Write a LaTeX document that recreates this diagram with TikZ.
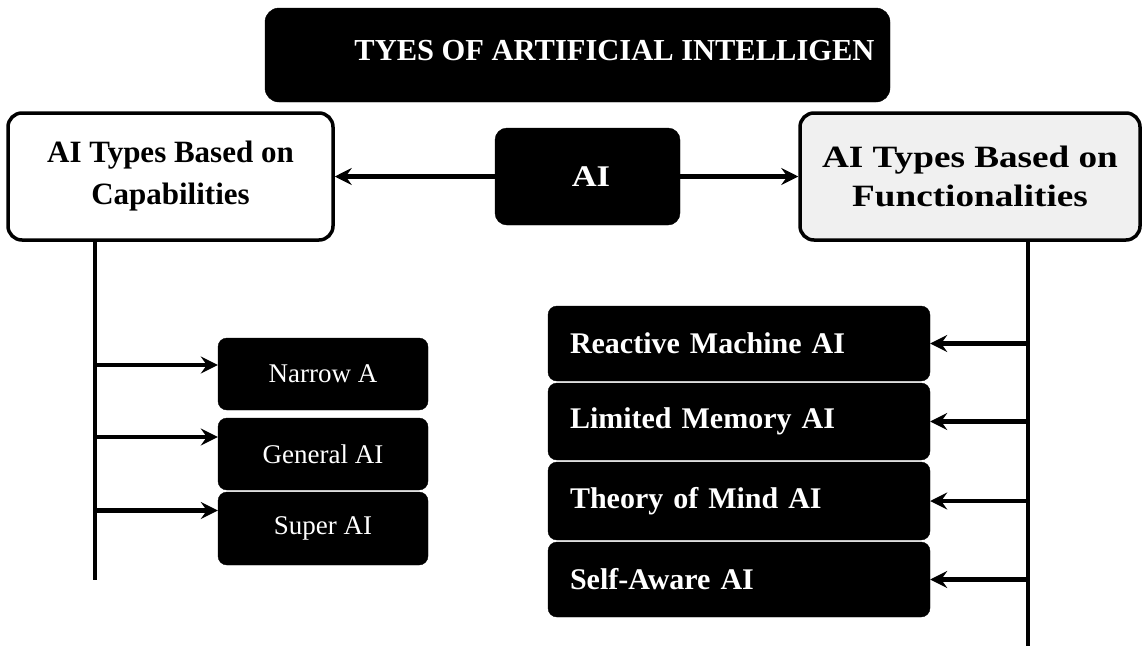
\documentclass[tikz,border=0pt]{standalone}
\usepackage{fontspec}
\setmainfont{Liberation Serif}
\usetikzlibrary{arrows.meta}
\begin{document}
\begin{tikzpicture}[x=1pt,y=-1pt,
  blackbox/.style={fill=black, draw=black, rounded corners=9pt, text=white},
  whitebox/.style={draw=black, line width=3.5pt, rounded corners=14pt, align=center, font=\fontsize{31}{42}\selectfont\bfseries},
  leftitem/.style={blackbox, minimum width=210pt, font=\fontsize{27}{30}\selectfont},
  rightitem/.style={blackbox, inner xsep=22pt, text width=338pt, align=left, font=\fontsize{30}{34}\selectfont\bfseries},
  arr/.style={line width=4.5pt, -{Stealth[length=17pt,width=17pt,inset=6pt]}},
  trunk/.style={line width=4.5pt}]
\useasboundingbox (0,0) rectangle (1142,646);
\fill[white] (0,0) rectangle (1142,646);

\node[blackbox, minimum width=625pt, minimum height=94pt, rounded corners=14pt,
      font=\fontsize{30.5}{34}\selectfont\bfseries] (title) at (577.5,55)
  {\raisebox{9pt}{\hspace*{74pt}TYES OF ARTIFICIAL INTELLIGEN}};

\node[whitebox, fill=white, minimum width=325pt, minimum height=127pt] (cap) at (170.5,176.5)
  {AI Types Based on\\Capabilities};
\node[whitebox, fill=gray!12, minimum width=340pt, minimum height=127pt,
      font=\fontsize{31}{39}\selectfont\bfseries\addfontfeatures{FakeStretch=1.2}] (fun) at (970,176.5)
  {AI Types Based on\\Functionalities};
\node[blackbox, minimum width=185pt, minimum height=97pt, rounded corners=12pt,
      font=\fontsize{30}{34}\selectfont\bfseries\addfontfeatures{FakeStretch=1.15}] (ai) at (587.5,176.5) {\hspace*{7pt}AI};

\draw[arr] (ai.west) -- (cap.east);
\draw[arr] (ai.east) -- (fun.west);

% left branch
\node[leftitem, minimum height=72pt] (narrow) at (323,374) {Narrow A};
\node[leftitem, minimum height=72pt] (general) at (323,454) {General AI};
\node[leftitem, minimum height=73pt] (super) at (323,528.5) {Super AI};
\coordinate (lb) at (95,580);
\draw[trunk] (cap.south -| lb) -- (lb);
\draw[arr] ([yshift=9pt]narrow.west -| lb) -- ([yshift=9pt]narrow.west);
\draw[arr] ([yshift=17pt]general.west -| lb) -- ([yshift=17pt]general.west);
\draw[arr] ([yshift=18pt]super.west -| lb) -- ([yshift=18pt]super.west);

% right branch
\node[rightitem, minimum height=75pt] (reactive) at (739,343.5) {Reactive Machine AI};
\node[rightitem, minimum height=77pt] (limited) at (739,421.5) {Limited Memory AI};
\node[rightitem, minimum height=78pt] (theory) at (739,501) {Theory of Mind AI};
\node[rightitem, minimum height=75pt] (self) at (739,579.5) {Self-Aware AI};
\coordinate (rb) at (1028,646);
\draw[trunk] (fun.south -| rb) -- (rb);
\draw[arr] (reactive.east -| rb) -- (reactive.east);
\draw[arr] (limited.east -| rb) -- (limited.east);
\draw[arr] (theory.east -| rb) -- (theory.east);
\draw[arr] (self.east -| rb) -- (self.east);
\end{tikzpicture}
\end{document}
